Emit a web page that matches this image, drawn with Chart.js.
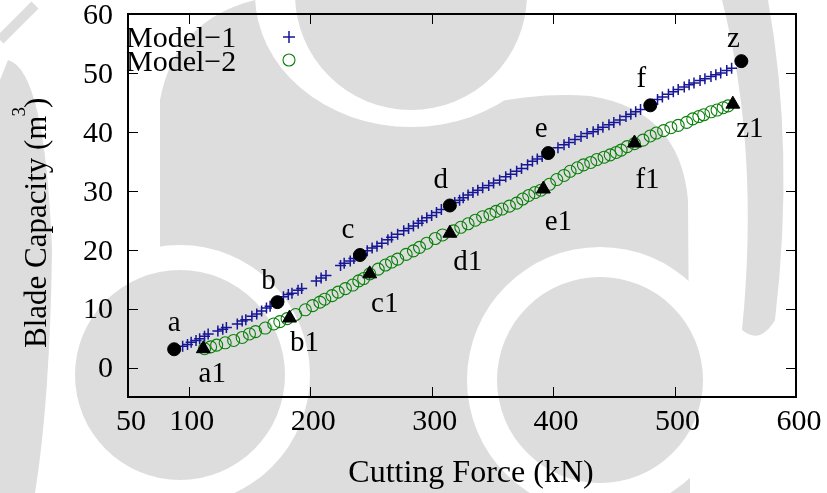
<!DOCTYPE html>
<html>
<head>
<meta charset="utf-8">
<script src="https://cdn.jsdelivr.net/npm/chart.js@4.4.1/dist/chart.umd.min.js"></script>
<style>
  html, body { margin: 0; padding: 0; background: #fff; }
  canvas { display: block; }
</style>
</head>
<body>
<canvas id="chart" width="827" height="493"></canvas>
<script>
// ---- data ----
const xTicks = [50, 100, 200, 300, 400, 500, 600];
const yTicks = [0, 10, 20, 30, 40, 50, 60];

const model1X = [95, 99, 102, 106, 109, 113, 116, 124, 128, 131, 140, 144, 147, 152, 156, 160, 164, 167,
  178, 182, 185, 190, 193, 205, 209, 213, 225, 228, 233, 236, 247, 251, 255, 259, 264, 267, 272, 277,
  281, 285, 289, 292, 296, 300, 304, 308, 319, 323, 326, 330, 334, 338, 342, 347, 351, 356, 361, 365,
  370, 374, 379, 383, 387, 391, 404, 409, 413, 418, 423, 428, 433, 437, 441, 446, 450, 455, 460, 464,
  468, 472, 486, 490, 495, 499, 503, 508, 512, 516, 521, 525, 530, 534, 538, 543, 547];
const model1Y = [3.6, 3.9, 4.3, 4.6, 4.9, 5.3, 5.7, 6.2, 6.5, 6.8, 7.4, 7.9, 8.1, 8.7, 9.1, 9.6, 10.1, 10.4,
  12.0, 12.4, 12.6, 13.1, 13.4, 14.7, 15.2, 15.6, 17.3, 17.7, 18.1, 18.5, 19.8, 20.3, 20.6, 21.1, 21.7, 22.1, 22.6, 23.2,
  23.6, 24.0, 24.5, 24.9, 25.4, 25.8, 26.3, 26.8, 28.0, 28.4, 28.8, 29.3, 29.7, 30.1, 30.5, 30.9, 31.3, 31.8, 32.4, 32.8,
  33.3, 33.8, 34.4, 35.0, 35.4, 35.8, 37.3, 37.8, 38.2, 38.7, 39.2, 39.7, 40.0, 40.4, 40.8, 41.2, 41.6, 42.0, 42.6, 43.0,
  43.4, 43.8, 45.5, 45.9, 46.4, 46.8, 47.2, 47.6, 48.0, 48.3, 48.7, 49.0, 49.4, 49.7, 50.0, 50.4, 50.8];

const model2X = [113, 118, 123, 130, 137, 144, 150, 155, 163, 170, 175, 181, 188, 196, 202, 208, 212, 218,
  223, 229, 235, 240, 244, 249, 256, 262, 267, 272, 279, 285, 290, 296, 303, 309, 318, 324, 330, 336,
  342, 348, 353, 358, 364, 370, 375, 380, 385, 390, 397, 403, 409, 414, 420, 425, 431, 436, 442, 447,
  452, 456, 461, 467, 474, 480, 485, 491, 497, 503, 510, 515, 520, 524, 530, 535, 540, 544];
const model2Y = [3.2, 3.5, 3.8, 4.2, 4.6, 5.1, 5.7, 6.1, 6.7, 7.4, 7.8, 8.3, 9.0, 9.8, 10.5, 11.1, 11.6, 12.2,
  12.8, 13.4, 14.0, 14.7, 15.1, 15.9, 16.7, 17.4, 17.9, 18.4, 19.2, 19.8, 20.4, 21.1, 21.9, 22.5, 23.2, 23.8, 24.4, 25.0,
  25.6, 26.0, 26.5, 26.9, 27.4, 27.9, 28.6, 29.2, 29.7, 30.1, 31.1, 31.9, 32.6, 33.3, 33.9, 34.4, 34.8, 35.3, 35.7, 36.1,
  36.5, 36.9, 37.5, 38.0, 38.6, 39.3, 39.8, 40.2, 40.7, 41.1, 41.6, 42.2, 42.6, 42.9, 43.4, 43.7, 44.1, 44.4];

// marked points on each model
const mark1Names = ['a', 'b', 'c', 'd', 'e', 'f', 'z'];
const mark1X = [88, 173, 241, 315, 396, 480, 555];
const mark1Y = [3.1, 11.1, 19.1, 27.5, 36.4, 44.5, 52.0];
const mark2Names = ['a1', 'b1', 'c1', 'd1', 'e1', 'f1', 'z1'];
const mark2X = [112, 183, 249, 315, 392, 467, 548];
const mark2Y = [3.2, 8.4, 15.9, 22.8, 30.3, 38.1, 44.7];

// ---- styling ----
const SERIF = '"Liberation Serif", "DejaVu Serif", serif';
const BLUE = 'rgb(22,22,150)';
const GREEN = '#0a800a';
// label text offsets (px, relative to the marker) for the marked points
const mark1Offsets = [[0, -18], [-9, -13], [-12, -17], [-9, -18], [-7, -16], [-9, -18], [-8, -14]];
const mark2Offsets = [[9, 33], [15, 33], [15, 38], [18, 37], [15, 41], [13, 45], [17, 33]];

const pts = (xs, ys) => xs.map((x, i) => ({ x, y: ys[i] }));

function drawBackdrop(ctx, w, h) {
  const G = '#dddddd';
  ctx.save();
  ctx.fillStyle = '#fff';
  ctx.fillRect(0, 0, w, h);
  ctx.fillStyle = G;
  // left sweeping band
  ctx.beginPath();
  ctx.moveTo(8, 60); ctx.quadraticCurveTo(45, 70, 52, 250);
  ctx.quadraticCurveTo(50, 400, 35, 493);
  ctx.lineTo(0, 493); ctx.lineTo(0, 80); ctx.closePath();
  ctx.fill();
  // small stroke in the corner
  ctx.strokeStyle = G; ctx.lineWidth = 10;
  ctx.beginPath(); ctx.moveTo(0, 40); ctx.lineTo(35, 5); ctx.stroke();
  // right arm
  ctx.beginPath();
  ctx.moveTo(722, 0); ctx.lineTo(768, 0);
  ctx.quadraticCurveTo(795, 150, 775, 320);
  ctx.quadraticCurveTo(760, 345, 742, 330);
  ctx.quadraticCurveTo(760, 150, 722, 0);
  ctx.closePath();
  ctx.fill();
  // central body
  ctx.beginPath();
  ctx.moveTo(160, 493); ctx.lineTo(160, 100);
  ctx.quadraticCurveTo(175, 20, 255, 0);
  ctx.lineTo(480, 0); ctx.lineTo(480, 105);
  ctx.quadraticCurveTo(540, 92, 590, 96);
  ctx.quadraticCurveTo(680, 110, 688, 200);
  ctx.lineTo(690, 493);
  ctx.closePath();
  ctx.fill();
  // gaps around the three discs
  ctx.fillStyle = '#fff';
  ctx.beginPath(); ctx.ellipse(411, -6, 156, 133, 0, 0, Math.PI * 2); ctx.fill();
  [[600, 380, 133], [180, 375, 130]].forEach(([x, y, r]) => {
    ctx.beginPath(); ctx.arc(x, y, r, 0, Math.PI * 2); ctx.fill();
  });
  ctx.fillStyle = G;
  [[411, -6, 116], [600, 380, 103], [180, 375, 105]].forEach(([x, y, r]) => {
    ctx.beginPath(); ctx.arc(x, y, r, 0, Math.PI * 2); ctx.fill();
  });
  ctx.restore();
}

const decorations = {
  id: 'decorations',
  beforeDraw(chart) {
    drawBackdrop(chart.ctx, chart.width, chart.height);
  },
  afterDraw(chart) {
    const ctx = chart.ctx;
    const { left, right, top, bottom } = chart.chartArea;
    const xs = chart.scales.x, ys = chart.scales.y;
    ctx.save();
    // inward tick marks on all four sides
    ctx.strokeStyle = '#000';
    ctx.lineWidth = 1;
    ctx.beginPath();
    xTicks.forEach(v => {
      if (v <= xs.min || v >= xs.max) return;
      const px = Math.round(xs.getPixelForValue(v)) + 0.5;
      ctx.moveTo(px, bottom); ctx.lineTo(px, bottom - 10);
      ctx.moveTo(px, top); ctx.lineTo(px, top + 10);
    });
    yTicks.forEach(v => {
      if (v <= ys.min || v >= ys.max) return;
      const py = Math.round(ys.getPixelForValue(v)) + 0.5;
      ctx.moveTo(left, py); ctx.lineTo(left + 10, py);
      ctx.moveTo(right, py); ctx.lineTo(right - 10, py);
    });
    ctx.stroke();
    // frame
    ctx.lineWidth = 2;
    ctx.strokeRect(left, top, right - left, bottom - top);

    // legend (text first, sample on the right)
    ctx.fillStyle = '#000';
    ctx.font = '30px ' + SERIF;
    ctx.textAlign = 'left';
    ctx.textBaseline = 'alphabetic';
    ctx.fillText('Model\u22121', 126, 47);
    ctx.fillText('Model\u22122', 126, 71);
    ctx.strokeStyle = BLUE; ctx.lineWidth = 1.5;
    ctx.beginPath();
    ctx.moveTo(283, 37); ctx.lineTo(295, 37);
    ctx.moveTo(289, 31); ctx.lineTo(289, 43);
    ctx.stroke();
    ctx.strokeStyle = GREEN; ctx.lineWidth = 1.1;
    ctx.beginPath(); ctx.arc(289, 60, 6, 0, Math.PI * 2); ctx.stroke();

    // names of the marked points
    ctx.fillStyle = '#000';
    ctx.font = '29px ' + SERIF;
    ctx.textAlign = 'center';
    const meta1 = chart.getDatasetMeta(2).data;
    const meta2 = chart.getDatasetMeta(3).data;
    mark1Names.forEach((n, i) => {
      const p = meta1[i];
      ctx.fillText(n, p.x + mark1Offsets[i][0], p.y + mark1Offsets[i][1]);
    });
    mark2Names.forEach((n, i) => {
      const p = meta2[i];
      ctx.fillText(n, p.x + mark2Offsets[i][0], p.y + mark2Offsets[i][1]);
    });

    // axis titles
    ctx.font = '32px ' + SERIF;
    ctx.textAlign = 'center';
    ctx.fillText('Cutting Force (kN)', (left + right) / 2 + 9, 482);

    ctx.translate(46, 348);
    ctx.rotate(-Math.PI / 2);
    ctx.textAlign = 'left';
    const base = 'Blade Capacity (m';
    ctx.font = '31px ' + SERIF;
    ctx.fillText(base, 0, 0);
    let w = ctx.measureText(base).width;
    ctx.font = '19px ' + SERIF;
    ctx.fillText('3', w - 1, -21);
    w += ctx.measureText('3').width - 2;
    ctx.font = '31px ' + SERIF;
    ctx.fillText(')', w, 0);
    ctx.restore();
  }
};

new Chart(document.getElementById('chart'), {
  type: 'scatter',
  data: {
    datasets: [
      {
        label: 'Model\u22121',
        data: pts(model1X, model1Y),
        pointStyle: 'cross',
        pointRadius: 5.5,
        borderColor: BLUE,
        backgroundColor: BLUE,
        borderWidth: 1.5,
        order: 3
      },
      {
        label: 'Model\u22122',
        data: pts(model2X, model2Y),
        pointStyle: 'circle',
        pointRadius: 6,
        borderColor: GREEN,
        backgroundColor: 'rgba(0,0,0,0)',
        borderWidth: 1.1,
        order: 2
      },
      {
        label: 'marks1',
        data: pts(mark1X, mark1Y),
        pointStyle: 'circle',
        pointRadius: 6.5,
        borderColor: '#000',
        backgroundColor: '#000',
        borderWidth: 1,
        order: 1
      },
      {
        label: 'marks2',
        data: pts(mark2X, mark2Y),
        pointStyle: 'triangle',
        pointRadius: 8,
        borderColor: '#000',
        backgroundColor: '#000',
        borderWidth: 1,
        order: 0
      }
    ]
  },
  options: {
    responsive: false,
    animation: false,
    devicePixelRatio: 1,
    events: [],
    layout: { padding: { top: 14, right: 31, left: 0, bottom: 0 } },
    plugins: { legend: { display: false }, tooltip: { enabled: false } },
    scales: {
      x: {
        type: 'linear',
        min: 50, max: 600,
        afterBuildTicks: s => { s.ticks = xTicks.map(v => ({ value: v })); },
        afterFit: s => { s.height = 96; s.paddingLeft = 0; s.paddingRight = 0; },
        grid: { display: false, drawTicks: false },
        border: { display: false },
        ticks: {
          color: '#000', font: { family: SERIF, size: 30 },
          padding: 7, labelOffset: 3, maxRotation: 0, autoSkip: false
        }
      },
      y: {
        type: 'linear',
        min: -5, max: 60,
        afterBuildTicks: s => { s.ticks = yTicks.map(v => ({ value: v })); },
        afterFit: s => { s.width = 128; s.paddingTop = 0; s.paddingBottom = 0; },
        grid: { display: false, drawTicks: false },
        border: { display: false },
        ticks: {
          color: '#000', font: { family: SERIF, size: 30 },
          padding: 15, labelOffset: 2, autoSkip: false
        }
      }
    }
  },
  plugins: [decorations]
});
</script>
</body>
</html>
